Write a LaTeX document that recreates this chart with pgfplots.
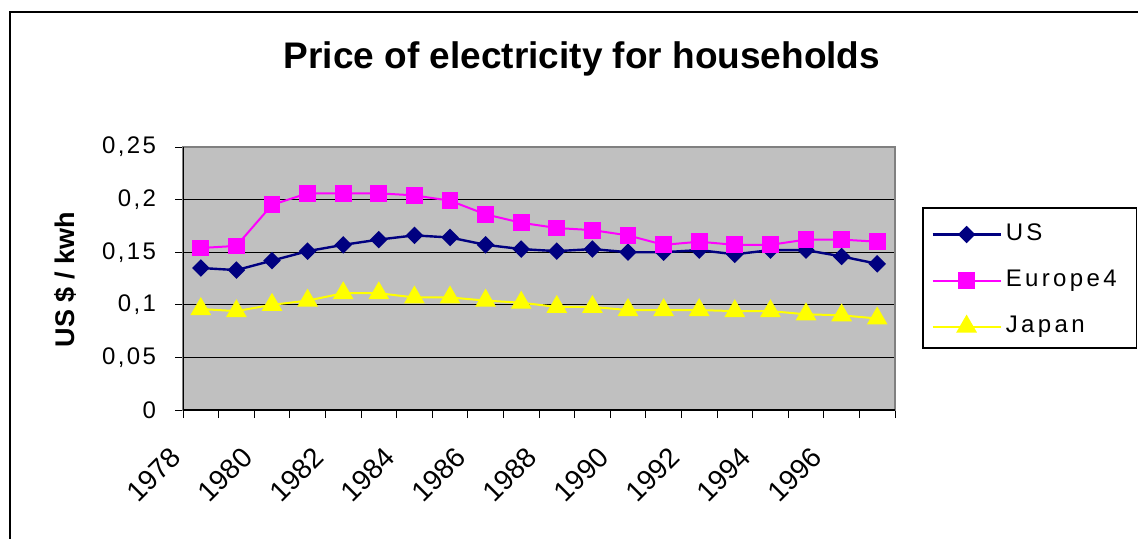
\documentclass[border=0pt]{standalone}
\usepackage{fontspec}
\setmainfont{Liberation Sans}
\newfontfamily\spfont[LetterSpace=10]{Liberation Sans}
\newfontfamily\legfont[LetterSpace=14]{Liberation Sans}
\usepackage{pgfplots}
\pgfplotsset{compat=1.18}
\definecolor{usnavy}{RGB}{0,0,128}
\definecolor{eumag}{RGB}{255,0,255}
\definecolor{jpyel}{RGB}{255,255,0}
\definecolor{plotgray}{RGB}{192,192,192}
\definecolor{bordergray}{RGB}{128,128,128}

\pgfplotstableread{
year   us     europe  japan
1978   0.135  0.154   0.096
1979   0.133  0.156   0.094
1980   0.142  0.195   0.100
1981   0.151  0.206   0.104
1982   0.157  0.206   0.111
1983   0.162  0.206   0.111
1984   0.166  0.204   0.107
1985   0.164  0.199   0.107
1986   0.157  0.186   0.104
1987   0.153  0.178   0.102
1988   0.151  0.173   0.098
1989   0.153  0.171   0.098
1990   0.150  0.166   0.095
1991   0.150  0.157   0.095
1992   0.152  0.160   0.095
1993   0.148  0.157   0.094
1994   0.152  0.157   0.094
1995   0.152  0.162   0.091
1996   0.146  0.162   0.090
1997   0.139  0.160   0.087
}\pricedata

\begin{document}
\begin{tikzpicture}
\useasboundingbox (0,0) rectangle (569pt,269pt);
% outer chart frame (right and bottom edges fall outside the picture)
\draw[black, line width=0.6pt] (5pt,-2pt) -- (5pt,263pt) -- (572pt,263pt);
\begin{axis}[
  at={(91.5pt,64pt)}, anchor=south west,
  scale only axis,
  width=356pt, height=131.5pt,
  xmin=1977.5, xmax=1997.5,
  ymin=0, ymax=0.25,
  axis background/.style={fill=plotgray},
  axis line style={draw=bordergray, line width=1pt},
  ymajorgrids=true,
  grid style={black, line width=0.5pt},
  tick align=outside,
  major tick length=4pt,
  major tick style={black, line width=0.5pt},
  xtick pos=bottom, ytick pos=left,
  xtick={1977.5,1978.5,...,1997.5},
  xticklabels={1978,,1980,,1982,,1984,,1986,,1988,,1990,,1992,,1994,,1996,,},
  ytick={0,0.05,0.1,0.15,0.2,0.25},
  yticklabels={0,{0,05},{0,1},{0,15},{0,2},{0,25}},
  x tick label style={font=\fontsize{14}{16}\selectfont, xshift=-7pt, yshift=-9pt, rotate=45, anchor=north east},
  y tick label style={font=\spfont\fontsize{12}{14}\selectfont, anchor=east, xshift=-6pt},
  ylabel={\textbf{US \$ / kwh}},
  ylabel style={font=\fontsize{13.5}{15}\selectfont, at={(axis description cs:-0.1657,0.496)}, anchor=center, rotate=0},
  title={\textbf{Price of electricity for households}},
  title style={font=\fontsize{18.5}{21}\selectfont, at={(axis description cs:0.5604,1.29)}, anchor=center},
  legend style={at={(axis description cs:1.0393,0.76)}, anchor=north west,
    draw=none, fill=none, font=\legfont\fontsize{12}{14}\selectfont,
    inner xsep=4pt, inner ysep=6pt, row sep=11pt,
    nodes={inner xsep=2pt, inner ysep=0pt, text height=9pt, text depth=3pt}},
  legend cell align=left,
  legend image code/.code={\draw[#1, mark repeat=2, mark phase=2] plot coordinates {(0pt,0pt) (17pt,0pt) (34pt,0pt)};},
]
\addplot[color=usnavy, line width=1.2pt, mark=square*, mark size=2.5pt, mark options={rotate=45, solid, fill=usnavy}] table[x=year, y=us] {\pricedata};
\addplot[color=eumag, line width=1pt, mark=square*, mark size=3.7pt, mark options={solid, fill=eumag}] table[x=year, y=europe] {\pricedata};
\addplot[color=jpyel, line width=1pt, mark=triangle*, mark size=5pt, mark options={solid, fill=jpyel}] table[x=year, y=japan] {\pricedata};
\legend{US,Europe4,Japan}
\draw[black, line width=0.6pt] (rel axis cs:0,1) -- (rel axis cs:0,0) -- (rel axis cs:1,0);
\end{axis}
% legend frame
\draw[black, line width=0.6pt] (461.5pt,95pt) rectangle (568.2pt,165pt);
\end{tikzpicture}
\end{document}
